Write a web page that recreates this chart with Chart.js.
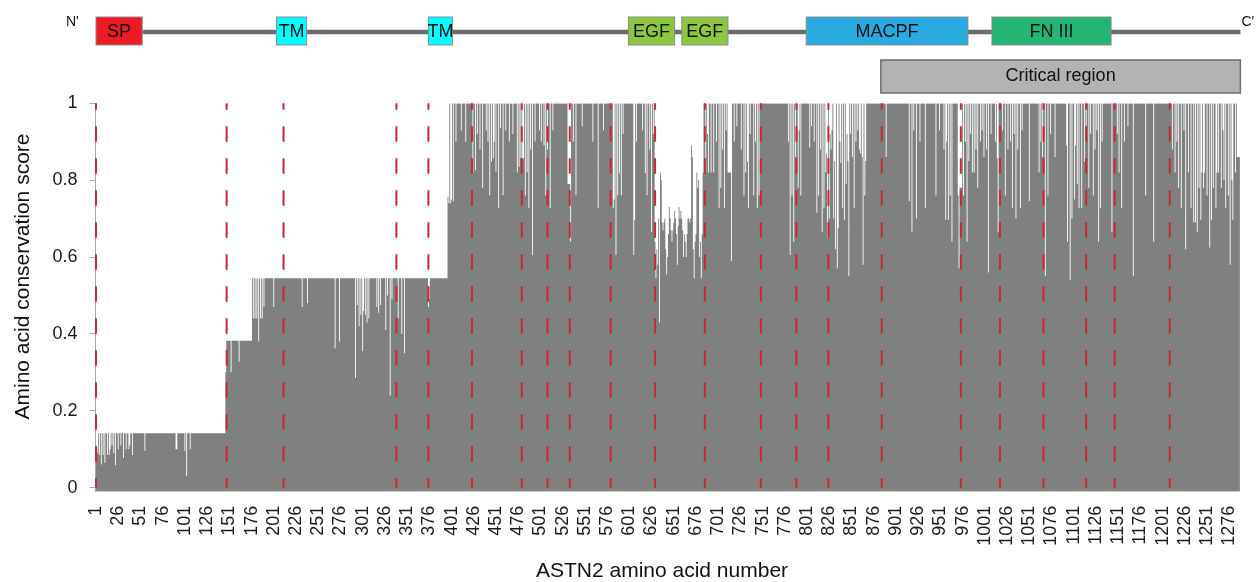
<!DOCTYPE html>
<html>
<head>
<meta charset="utf-8">
<script src="https://cdn.jsdelivr.net/npm/chart.js@4.4.1/dist/chart.umd.min.js"></script>
<style>
  html, body { margin: 0; padding: 0; background: #fff; }
  #chart { display: block; }
</style>
</head>
<body>
<canvas id="chart" width="1257" height="582"></canvas>
<script>
const residueCount = 1288;

// plateau runs of the conservation score: [first residue, last residue, score]
const plateaus = [
    [1, 147, 0.1415],
    [148, 176, 0.382],
    [177, 396, 0.545],
    [397, 1288, 1.0]
];

// residues whose score is below (or off) their plateau: [residue, score]
const dips = [
    [1, 0.11], [2, 0.105], [3, 0.09], [5, 0.085], [7, 0.06], [9, 0.085], [11, 0.065], [14, 0.085],
    [16, 0.085], [17, 0.10], [19, 0.11], [21, 0.09], [23, 0.058], [26, 0.10], [29, 0.11], [32, 0.077],
    [35, 0.10], [38, 0.10], [39, 0.11], [42, 0.085], [56, 0.096], [91, 0.10], [92, 0.10], [101, 0.096],
    [103, 0.03], [107, 0.10], [147, 0.30],
    [153, 0.30], [162, 0.328],
    [178, 0.44], [180, 0.44], [182, 0.44], [184, 0.38], [186, 0.44], [188, 0.44], [190, 0.47], [201, 0.47],
    [233, 0.47], [239, 0.48], [270, 0.362], [275, 0.38], [293, 0.285], [295, 0.475], [297, 0.42], [299, 0.45],
    [301, 0.355], [302, 0.46], [304, 0.45], [306, 0.43], [308, 0.44], [317, 0.47], [319, 0.455], [321, 0.475],
    [327, 0.41], [329, 0.50], [332, 0.24], [334, 0.49], [341, 0.44], [345, 0.40], [348, 0.35], [375, 0.47],
    [376, 0.49],
    [397, 0.757], [398, 0.74], [400, 0.74], [401, 0.75], [403, 0.745],
    [425, 0.818], [428, 0.826], [436, 0.78], [444, 0.761], [446, 0.848], [448, 0.857], [451, 0.822], [454, 0.727],
    [456, 0.935], [459, 0.761], [475, 0.82], [477, 0.835], [479, 0.857], [481, 0.85], [482, 0.857], [484, 0.76],
    [486, 0.82], [488, 0.727], [492, 0.605], [505, 0.89], [507, 0.76], [512, 0.727],
    [532, 0.79], [533, 0.79], [534, 0.79], [535, 0.64], [541, 0.761], [566, 0.727], [583, 0.727], [584, 0.75],
    [586, 0.605], [588, 0.761], [590, 0.818], [592, 0.761], [606, 0.605], [607, 0.697], [619, 0.818], [621, 0.761],
    [626, 0.666],
    [630, 0.64], [631, 0.545], [632, 0.62], [633, 0.58], [634, 0.70], [635, 0.43], [636, 0.82], [637, 0.80],
    [638, 0.69], [639, 0.67], [640, 0.69], [641, 0.70], [642, 0.62], [643, 0.555], [644, 0.60], [645, 0.66],
    [646, 0.73], [647, 0.70], [648, 0.67], [649, 0.64], [650, 0.67], [651, 0.69], [652, 0.72], [653, 0.70],
    [654, 0.66], [655, 0.58], [656, 0.68], [657, 0.73], [658, 0.70], [659, 0.72], [660, 0.70], [661, 0.67],
    [662, 0.60], [663, 0.66], [664, 0.64], [665, 0.60], [666, 0.66], [667, 0.70], [668, 0.70], [669, 0.69],
    [670, 0.70], [671, 0.89], [672, 0.86], [673, 0.62], [674, 0.545], [675, 0.64], [676, 0.66], [677, 0.82],
    [678, 0.78], [679, 0.80], [680, 0.60], [681, 0.64], [682, 0.545], [683, 0.66], [684, 0.82],
    [687, 0.82], [690, 0.82], [693, 0.82], [696, 0.82], [702, 0.727], [704, 0.78], [708, 0.727], [712, 0.82],
    [713, 0.82], [714, 0.82], [715, 0.82], [716, 0.59], [730, 0.76], [732, 0.82], [734, 0.848], [735, 0.727],
    [741, 0.76], [745, 0.727], [747, 0.76],
    [782, 0.605], [784, 0.76], [786, 0.64], [791, 0.78], [794, 0.76], [804, 0.885], [812, 0.715], [814, 0.76],
    [818, 0.666], [820, 0.727], [822, 0.82], [823, 0.87], [824, 0.65], [826, 0.70], [831, 0.70], [833, 0.62],
    [835, 0.57], [836, 0.675], [839, 0.845], [841, 0.727], [843, 0.697], [845, 0.79], [846, 0.92], [847, 0.85],
    [848, 0.55], [854, 0.727], [861, 0.87], [863, 0.86], [864, 0.58], [866, 0.76], [890, 0.86], [916, 0.745],
    [919, 0.666], [924, 0.70], [934, 0.727], [946, 0.76], [957, 0.697], [960, 0.697], [962, 0.76], [964, 0.64],
    [971, 0.76], [972, 0.57], [973, 0.78], [974, 0.78], [975, 0.78], [977, 0.76], [981, 0.64], [987, 0.82],
    [989, 0.82], [993, 0.78], [1000, 0.86], [1005, 0.56], [1015, 0.857], [1016, 0.666], [1024, 0.76],
    [1032, 0.727], [1036, 0.70], [1041, 0.727], [1051, 0.745], [1062, 0.82], [1069, 0.55], [1072, 0.76],
    [1080, 0.86], [1093, 0.89], [1094, 0.64], [1097, 0.54], [1099, 0.70], [1102, 0.75], [1103, 0.89],
    [1105, 0.79], [1107, 0.727], [1110, 0.727], [1113, 0.848], [1118, 0.78], [1123, 0.76], [1129, 0.64],
    [1131, 0.727], [1144, 0.666], [1152, 0.82], [1155, 0.727], [1168, 0.55], [1182, 0.76], [1191, 0.64],
    [1215, 0.82], [1219, 0.78], [1222, 0.727], [1227, 0.62], [1230, 0.82], [1233, 0.727], [1236, 0.69],
    [1238, 0.69], [1240, 0.666], [1242, 0.78], [1244, 0.697], [1245, 0.82], [1248, 0.82], [1251, 0.76],
    [1254, 0.625], [1256, 0.697], [1258, 0.78], [1261, 0.727], [1264, 0.82], [1267, 0.78], [1272, 0.727],
    [1275, 0.76], [1277, 0.58], [1280, 0.697], [1283, 0.82], [1285, 0.86], [1286, 0.86], [1287, 0.86],
    [1288, 0.86]
];

// fainter, shallow slivers near the top of the conserved part: [residue, score]
const shallowDips = [
    [406, 0.90], [412, 0.93], [417, 0.90], [430, 0.92], [433, 0.88], [440, 0.93], [442, 0.90], [449, 0.90],
    [462, 0.93], [466, 0.90], [470, 0.92], [490, 0.88], [495, 0.90], [500, 0.93], [502, 0.90], [509, 0.88],
    [515, 0.93], [538, 0.90], [548, 0.94], [560, 0.90], [572, 0.93],
    [594, 0.92], [609, 0.90], [616, 0.93], [624, 0.88], [628, 0.92],
    [689, 0.92], [699, 0.90], [706, 0.88], [710, 0.93], [719, 0.90], [722, 0.94], [727, 0.88], [737, 0.92],
    [743, 0.90],
    [780, 0.90], [788, 0.86], [792, 0.93], [806, 0.94], [809, 0.90], [816, 0.88], [827, 0.92], [828, 0.88],
    [829, 0.93], [832, 0.85], [838, 0.90], [850, 0.92], [852, 0.86], [856, 0.90], [858, 0.93], [860, 0.88],
    [867, 0.85], [921, 0.93], [928, 0.90], [950, 0.93], [955, 0.88], [958, 0.90], [979, 0.90], [983, 0.85],
    [985, 0.92], [991, 0.88], [996, 0.90], [998, 0.93], [1003, 0.88], [1008, 0.92], [1013, 0.90], [1021, 0.93],
    [1027, 0.88],
    [1030, 0.90], [1034, 0.92], [1038, 0.88], [1043, 0.93], [1064, 0.90], [1066, 0.86], [1075, 0.92],
    [1115, 0.90], [1120, 0.92], [1125, 0.88], [1127, 0.93], [1133, 0.90], [1150, 0.92], [1158, 0.90],
    [1162, 0.94],
    [1212, 0.88], [1217, 0.90], [1225, 0.93], [1247, 0.78], [1262, 0.82], [1269, 0.93], [1270, 0.80],
    [1279, 0.80]
];

// red dashed lines (exon boundaries), by residue
const exonBoundaries = [1, 148, 212, 339, 375, 424, 480, 509, 534, 580, 630, 686, 749, 789, 825, 885,
    974, 1018, 1067, 1115, 1147, 1209];

const xTickResidues = [1, 26, 51, 76, 101, 126, 151, 176, 201, 226, 251, 276, 301, 326, 351, 376, 401,
    426, 451, 476, 501, 526, 551, 576, 601, 626, 651, 676, 701, 726, 751, 776, 801, 826, 851, 876, 901,
    926, 951, 976, 1001, 1026, 1051, 1076, 1101, 1126, 1151, 1176, 1201, 1226, 1251, 1276];
const yTicks = [0, 0.2, 0.4, 0.6, 0.8, 1];

// protein domain map above the plot
const domainNames = ['SP', 'TM', 'TM', 'EGF', 'EGF', 'MACPF', 'FN III'];
const domainStarts = [1, 204, 375, 600, 660, 800, 1009];
const domainEnds = [53, 238, 402, 652, 712, 982, 1143];
const domainColors = ['#ed1c24', '#00ffff', '#00ffff', '#8dc63f', '#8dc63f', '#29abe2', '#22b573'];
const criticalRegion = [884, 1288];

const FONT = "'Liberation Sans', Arial, sans-serif";
const Y_MIN = -0.0105;

const labels = [];
const scores = [];
for (let r = 1; r <= residueCount; r++) labels.push(String(r));
plateaus.forEach(([a, b, v]) => {
    for (let r = a; r <= b; r++) scores[r - 1] = v;
});
shallowDips.forEach(([r, v]) => (scores[r - 1] = v));
dips.forEach(([r, v]) => (scores[r - 1] = v));

function residuePx(chart, r) {
    return chart.scales.x.getPixelForValue(r - 1);
}

const exonLines = {
    id: 'exonLines',
    afterDatasetsDraw(chart) {
        const { ctx, scales: { y } } = chart;
        ctx.save();
        ctx.strokeStyle = '#c8282f';
        ctx.lineWidth = 2;
        ctx.setLineDash([15.5, 16.5]);
        ctx.lineDashOffset = 9;
        exonBoundaries.forEach(r => {
            const x = residuePx(chart, r);
            ctx.beginPath();
            ctx.moveTo(x, y.getPixelForValue(1));
            ctx.lineTo(x, y.getPixelForValue(0));
            ctx.stroke();
        });
        ctx.restore();
    }
};

const domainMap = {
    id: 'domainMap',
    afterDraw(chart) {
        const ctx = chart.ctx;
        const half = (residuePx(chart, 2) - residuePx(chart, 1)) / 2;
        ctx.save();
        ctx.strokeStyle = '#6b6b6b';
        ctx.lineWidth = 4.5;
        ctx.beginPath();
        ctx.moveTo(residuePx(chart, 1), 32);
        ctx.lineTo(residuePx(chart, residueCount) + half, 32);
        ctx.stroke();

        ctx.textAlign = 'center';
        ctx.textBaseline = 'middle';
        domainNames.forEach((name, i) => {
            const x0 = residuePx(chart, domainStarts[i]);
            const x1 = residuePx(chart, domainEnds[i]);
            ctx.fillStyle = domainColors[i];
            ctx.fillRect(x0, 17, x1 - x0, 28);
            ctx.strokeStyle = '#8c8c8c';
            ctx.lineWidth = 1;
            ctx.strokeRect(x0, 17, x1 - x0, 28);
            ctx.fillStyle = '#111';
            ctx.font = '18px ' + FONT;
            ctx.fillText(name, (x0 + x1) / 2, 32);
        });

        const c0 = residuePx(chart, criticalRegion[0]);
        const c1 = residuePx(chart, criticalRegion[1]) + half;
        ctx.fillStyle = '#b3b3b3';
        ctx.fillRect(c0, 60, c1 - c0, 33);
        ctx.strokeStyle = '#6e6e6e';
        ctx.lineWidth = 1.5;
        ctx.strokeRect(c0, 60, c1 - c0, 33);
        ctx.fillStyle = '#111';
        ctx.fillText('Critical region', (c0 + c1) / 2, 76.5);

        ctx.font = '14px ' + FONT;
        ctx.textAlign = 'left';
        ctx.fillText("N'", 66, 22.5);
        ctx.fillText("C'", c1 + 1, 22.5);

        // axis titles
        ctx.font = '21px ' + FONT;
        ctx.textAlign = 'center';
        ctx.fillText('ASTN2 amino acid number', 662, 571);
        ctx.translate(23, 276.5);
        ctx.rotate(-Math.PI / 2);
        ctx.fillText('Amino acid conservation score', 0, 0);
        ctx.restore();
    }
};

// one bar per residue, drawn as a stepped filled area so neighbouring bars leave no seams
new Chart(document.getElementById('chart'), {
    type: 'line',
    data: {
        labels: labels,
        datasets: [{
            data: scores,
            stepped: 'middle',
            fill: { value: Y_MIN },
            backgroundColor: '#808080',
            borderColor: 'rgba(0,0,0,0)',
            borderWidth: 0,
            pointRadius: 0
        }]
    },
    options: {
        responsive: false,
        animation: false,
        devicePixelRatio: 1,
        layout: { padding: { top: 103.3, right: 12.6, left: 0, bottom: 0 } },
        plugins: { legend: { display: false }, tooltip: { enabled: false } },
        scales: {
            x: {
                offset: true,
                grid: { display: false },
                border: { display: false },
                ticks: {
                    autoSkip: false,
                    minRotation: 90,
                    maxRotation: 90,
                    padding: 6,
                    color: '#1a1a1a',
                    font: { family: FONT, size: 18 }
                },
                afterBuildTicks: scale => {
                    scale.ticks = xTickResidues.map(r => ({ value: r - 1 }));
                },
                afterFit: scale => {
                    scale.height = 90.3;
                }
            },
            y: {
                min: Y_MIN,
                max: 1,
                grid: { drawOnChartArea: false, drawTicks: true, tickLength: 6, color: '#aaaaaa' },
                border: { color: '#aaaaaa' },
                ticks: {
                    padding: 12,
                    color: '#1a1a1a',
                    font: { family: FONT, size: 18 },
                    callback: v => String(v)
                },
                afterBuildTicks: scale => {
                    scale.ticks = yTicks.map(v => ({ value: v }));
                },
                afterFit: scale => {
                    scale.width = 95.55;
                }
            }
        }
    },
    plugins: [exonLines, domainMap]
});
</script>
</body>
</html>
